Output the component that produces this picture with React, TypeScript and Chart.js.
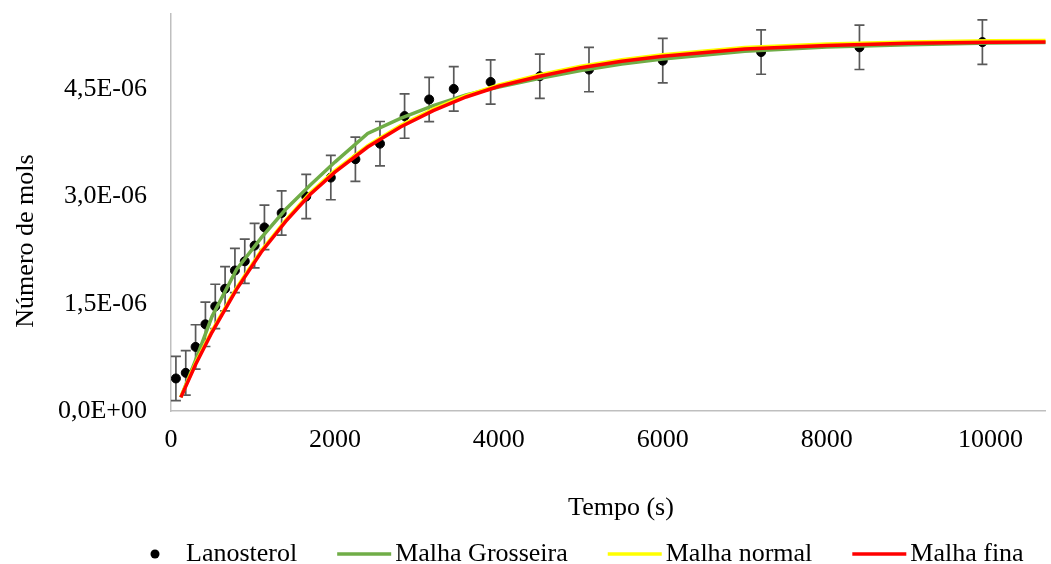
import React, { useEffect, useRef } from "react";
import { Chart, registerables } from "chart.js";

Chart.register(...registerables);

// Experimental points (time in s, value in 1e-6 mol, error in 1e-6 mol)
const lanTimes = [60, 180, 300, 420, 540, 660, 780, 900, 1020, 1140, 1350, 1650, 1950, 2250, 2550, 2850, 3150, 3450, 3900, 4500, 5100, 6000, 7200, 8400, 9900];
const lanosterol = [0.455, 0.533, 0.896, 1.212, 1.462, 1.709, 1.964, 2.093, 2.312, 2.567, 2.768, 2.999, 3.263, 3.52, 3.737, 4.123, 4.355, 4.503, 4.6, 4.68, 4.773, 4.898, 5.018, 5.084, 5.157];
const lanErrors = [0.31, 0.31, 0.31, 0.31, 0.31, 0.31, 0.31, 0.31, 0.31, 0.31, 0.31, 0.31, 0.31, 0.31, 0.31, 0.31, 0.31, 0.31, 0.31, 0.31, 0.31, 0.31, 0.31, 0.31, 0.31];

// Simulation curves (time in s, value in 1e-6 mol)
const simTimes = [120, 300, 500, 800, 1100, 1400, 1700, 2000, 2400, 2800, 3200, 3600, 4000, 4500, 5000, 5500, 6000, 7000, 8000, 9000, 10000, 10700];
const malhaGrosseira = [0.19, 0.71, 1.32, 1.98, 2.42, 2.82, 3.16, 3.48, 3.88, 4.09, 4.27, 4.42, 4.53, 4.65, 4.76, 4.85, 4.92, 5.03, 5.09, 5.12, 5.145, 5.15];
const malhaNormal = [0.2, 0.67, 1.12, 1.72, 2.24, 2.67, 3.05, 3.36, 3.71, 3.99, 4.22, 4.41, 4.56, 4.7, 4.82, 4.91, 4.98, 5.08, 5.13, 5.16, 5.175, 5.18];
const malhaFina = [0.19, 0.65, 1.1, 1.7, 2.22, 2.65, 3.03, 3.34, 3.69, 3.97, 4.2, 4.39, 4.54, 4.68, 4.8, 4.89, 4.96, 5.06, 5.11, 5.14, 5.155, 5.16];

// Axis ticks
const xTicks = [0, 2000, 4000, 6000, 8000, 10000];
const yTicks = [0, 1.5, 3.0, 4.5]; // ×1e-6

const legendLabels = ["Lanosterol", "Malha Grosseira", "Malha normal", "Malha fina"];
const seriesColors = ["#000000", "#70AD47", "#FFFF00", "#FF0000"];
const xTitle = "Tempo (s)";
const yTitle = "Número de mols";

const UNIT = 1e-6;
const FONT = '"Liberation Serif", "Times New Roman", serif';
const FONT_SIZE = 26;

function sci(v: number): string {
  if (Math.abs(v) < 1e-15) return "0,0E+00";
  const [m, e] = v.toExponential(1).split("e");
  const n = parseInt(e, 10);
  const sign = n < 0 ? "-" : "+";
  return m.replace(".", ",") + "E" + sign + String(Math.abs(n)).padStart(2, "0");
}

const errorBarPlugin = {
  id: "errorBars",
  beforeDatasetsDraw(chart: any) {
    const ctx = chart.ctx;
    const xs = chart.scales.x;
    const ys = chart.scales.y;
    ctx.save();
    ctx.strokeStyle = "#595959";
    ctx.lineWidth = 1.7;
    lanTimes.forEach((t, i) => {
      const x = xs.getPixelForValue(t);
      const yT = ys.getPixelForValue((lanosterol[i] + lanErrors[i]) * UNIT);
      const yB = ys.getPixelForValue((lanosterol[i] - lanErrors[i]) * UNIT);
      ctx.beginPath();
      ctx.moveTo(x, yT);
      ctx.lineTo(x, yB);
      ctx.moveTo(x - 5, yT);
      ctx.lineTo(x + 5, yT);
      ctx.moveTo(x - 5, yB);
      ctx.lineTo(x + 5, yB);
      ctx.stroke();
    });
    ctx.restore();
  },
};

const overlayPlugin = {
  id: "overlay",
  afterDraw(chart: any) {
    const ctx = chart.ctx;
    ctx.save();
    ctx.fillStyle = "#000";
    ctx.font = `${FONT_SIZE}px ${FONT}`;
    // X title
    ctx.textAlign = "center";
    ctx.textBaseline = "alphabetic";
    ctx.fillText(xTitle, 621, 515);
    // Y title
    ctx.save();
    ctx.translate(33, 241);
    ctx.rotate(-Math.PI / 2);
    ctx.textAlign = "center";
    ctx.fillText(yTitle, 0, 0);
    ctx.restore();
    // Legend
    const ly = 554;
    let cx = 128;
    legendLabels.forEach((label, i) => {
      const symW = 54;
      if (i === 0) {
        ctx.beginPath();
        ctx.fillStyle = seriesColors[0];
        ctx.arc(cx + 27, ly, 4.5, 0, Math.PI * 2);
        ctx.fill();
      } else {
        ctx.beginPath();
        ctx.strokeStyle = seriesColors[i];
        ctx.lineWidth = 3.5;
        ctx.moveTo(cx, ly);
        ctx.lineTo(cx + symW, ly);
        ctx.stroke();
      }
      cx += symW + 4;
      ctx.fillStyle = "#000";
      ctx.textAlign = "left";
      ctx.fillText(label, cx, 561);
      cx += ctx.measureText(label).width + 40;
    });
    ctx.restore();
  },
};

export default function App() {
  const ref = useRef<HTMLCanvasElement>(null);
  useEffect(() => {
    document.body.style.margin = "0";
    const canvas = ref.current;
    if (!canvas) return;
    const lineDs = (i: number, vals: number[], order: number) => ({
      label: legendLabels[i],
      data: simTimes.map((t, k) => ({ x: t, y: vals[k] * UNIT })),
      borderColor: seriesColors[i],
      backgroundColor: seriesColors[i],
      borderWidth: 3.5,
      pointRadius: 0,
      tension: 0,
      fill: false,
      order,
    });
    const chart = new Chart(canvas, {
      type: "line",
      data: {
        datasets: [
          {
            label: legendLabels[0],
            data: lanTimes.map((t, k) => ({ x: t, y: lanosterol[k] * UNIT })),
            showLine: false,
            pointRadius: 4.5,
            pointBackgroundColor: "#000",
            pointBorderColor: "#000",
            borderColor: "#000",
            backgroundColor: "#000",
            order: 4,
          } as any,
          lineDs(1, malhaGrosseira, 3),
          lineDs(2, malhaNormal, 2),
          lineDs(3, malhaFina, 1),
        ],
      },
      options: {
        animation: false,
        responsive: false,
        layout: { padding: { top: 14, right: -4, left: 0, bottom: 0 } },
        plugins: { legend: { display: false }, tooltip: { enabled: false } },
        scales: {
          x: {
            type: "linear",
            min: 0,
            max: 10670,
            border: { color: "#BFBFBF", width: 1.5 },
            grid: { display: false, drawTicks: false },
            ticks: {
              autoSkip: false,
              maxRotation: 0,
              padding: 14,
              color: "#000",
              font: { family: FONT, size: FONT_SIZE },
              callback: (v: any) => String(v),
            },
            afterBuildTicks: (s: any) => {
              s.ticks = xTicks.map((v) => ({ value: v }));
            },
            afterFit: (s: any) => {
              s.height = 153;
              s.paddingLeft = 0;
              s.paddingRight = 0;
            },
          },
          y: {
            type: "linear",
            min: 0,
            max: 5.55e-6,
            border: { color: "#BFBFBF", width: 1.5 },
            grid: { display: false, drawTicks: false },
            ticks: {
              autoSkip: false,
              padding: 24,
              color: "#000",
              font: { family: FONT, size: FONT_SIZE },
              callback: (v: any) => sci(Number(v)),
            },
            afterBuildTicks: (s: any) => {
              s.ticks = yTicks.map((v) => ({ value: v * UNIT }));
            },
            afterFit: (s: any) => {
              s.width = 171;
              s.paddingTop = 0;
              s.paddingBottom = 0;
            },
          },
        },
      } as any,
      plugins: [errorBarPlugin, overlayPlugin],
    });
    return () => chart.destroy();
  }, []);
  return (
    <div style={{ width: 1051, height: 564, overflow: "hidden" }}>
      <canvas ref={ref} width={1051} height={564} style={{ display: "block", width: 1051, height: 564 }} />
    </div>
  );
}
